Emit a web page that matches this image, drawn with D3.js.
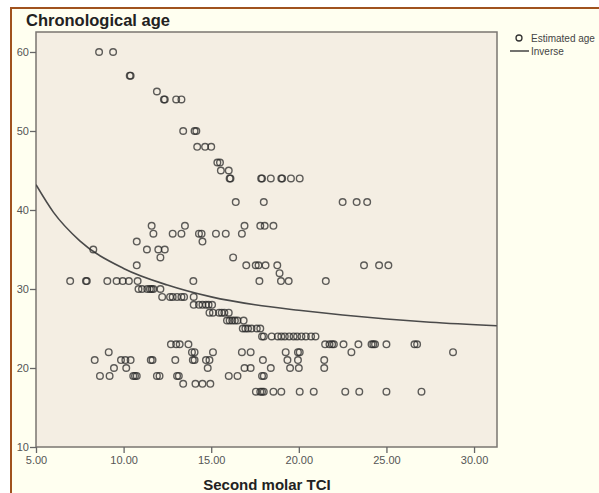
<!DOCTYPE html>
<meta charset="utf-8">
<style>
body { margin: 0; background: #fff; }
svg text { font-family: "Liberation Sans", Arial, sans-serif; }
.tick text { fill: #555; font-size: 11px; }
.tick line { stroke: #666; }
.domain { display: none; }
</style>
<body>
<div id="chart"></div>
<script src="https://d3js.org/d3.v7.min.js"></script>
<script>

var ageLevels = [60, 57, 55, 54, 50, 48, 46, 45, 44, 41, 38, 37, 36, 35, 34, 33, 32, 31, 30, 29, 28, 27, 26, 25, 24, 23, 22, 21, 20, 19, 18, 17];
var tciByAge = [
  [8.6, 9.4],
  [10.35, 10.4],
  [11.9],
  [12.3, 12.35, 13.0, 13.3],
  [13.4, 14.05, 14.15],
  [14.2, 14.65, 15.0],
  [15.35, 15.5],
  [15.55, 16.0],
  [16.05, 16.1, 17.85, 17.9, 18.4, 19.0, 19.05, 19.55, 20.05],
  [16.4, 18.0, 22.5, 23.3, 23.9],
  [11.6, 13.5, 16.9, 17.8, 18.05, 18.55],
  [11.7, 12.8, 13.3, 14.3, 14.45, 15.27, 15.83, 16.75],
  [10.75, 14.5],
  [8.27, 11.33, 11.98, 12.35],
  [12.1, 16.25],
  [10.75, 17.0, 17.54, 17.7, 18.1, 18.77, 23.72, 24.58, 25.11],
  [18.9],
  [6.95, 7.85, 7.9, 9.07, 9.6, 9.95, 10.3, 10.8, 13.98, 17.75, 18.98, 19.42, 21.54],
  [10.85, 11.05, 11.35, 11.5, 11.6, 11.7, 12.1],
  [12.2, 12.65, 12.8, 13.05, 13.3, 13.45, 14.0],
  [14.0, 14.3, 14.5, 14.7, 14.85, 15.05],
  [14.9, 15.1, 15.45, 15.6, 15.75, 16.0],
  [15.9, 16.05, 16.2, 16.35, 16.5, 16.85],
  [16.8, 16.95, 17.1, 17.3, 17.6, 17.8],
  [17.9, 18.0, 18.45, 18.8, 19.0, 19.2, 19.45, 19.7, 19.9, 20.15, 20.4, 20.7, 20.95],
  [12.7, 13.0, 13.2, 13.7, 21.5, 21.75, 21.9, 22.0, 22.55, 23.4, 24.15, 24.25, 24.35, 25.0, 26.6, 26.75],
  [9.15, 13.9, 14.05, 15.1, 16.75, 17.25, 19.25, 19.95, 20.05, 23.0, 28.8],
  [8.35, 9.85, 10.1, 10.4, 11.55, 11.65, 12.95, 13.95, 14.05, 14.7, 14.9, 17.95, 19.35, 19.95, 21.45],
  [9.45, 10.15, 14.8, 16.9, 17.25, 18.4, 19.5, 20.0, 21.45],
  [8.65, 9.2, 10.55, 10.65, 10.75, 11.9, 12.05, 13.05, 13.15, 16.0, 16.5, 17.9, 18.0],
  [13.4, 14.1, 14.5, 14.95],
  [17.55, 17.8, 17.9, 18.0, 18.55, 19.0, 20.05, 20.85, 22.65, 23.45, 25.0, 27.0]
];

// inverse fit curve
var curveTci = [5, 6, 7.5, 10, 12.5, 15, 17.5, 20, 22.5, 25, 27.5, 31.3];
var curveAge = [43.2, 39.7, 36.1, 32.6, 30.5, 29.0, 28.0, 27.3, 26.7, 26.2, 25.8, 25.35];

var xTicks = [5, 10, 15, 20, 25, 30];
var yTicks = [10, 20, 30, 40, 50, 60];
var legendLabels = ["Estimated age", "Inverse"];

var points = [];
ageLevels.forEach(function(a, i) {
    tciByAge[i].forEach(function(t) { points.push({tci: t, age: a}); });
});
var curve = curveTci.map(function(t, i) { return {tci: t, age: curveAge[i]}; });

var W = 599, H = 493;
var plot = {left: 36, top: 32, right: 497, bottom: 447};

var svg = d3.select("#chart").append("svg")
    .attr("width", W)
    .attr("height", H);

// page background + brown frame
svg.append("rect").attr("x", 11).attr("y", 7).attr("width", W - 11).attr("height", H - 7)
    .attr("fill", "#fffff0");
svg.append("line").attr("x1", 11).attr("x2", W).attr("y1", 8).attr("y2", 8)
    .attr("stroke", "#a0521e").attr("stroke-width", 2);
svg.append("line").attr("x1", 11).attr("x2", 11).attr("y1", 7).attr("y2", H)
    .attr("stroke", "#a0521e").attr("stroke-width", 2);

var x = d3.scaleLinear()
    .domain([5, 31.31])
    .range([plot.left, plot.right]);

var y = d3.scaleLinear()
    .domain([10, 62.53])
    .range([plot.bottom, plot.top]);

svg.append("rect")
    .attr("x", plot.left).attr("y", plot.top)
    .attr("width", plot.right - plot.left).attr("height", plot.bottom - plot.top)
    .attr("fill", "#f4eee3")
    .attr("stroke", "#7a7670")
    .attr("stroke-width", 1.5);

svg.append("g")
    .attr("transform", "translate(0," + plot.bottom + ")")
    .call(d3.axisBottom(x).tickValues(xTicks).tickSize(6).tickPadding(3).tickFormat(d3.format(".2f")));

svg.append("g")
    .attr("transform", "translate(" + plot.left + ",0)")
    .call(d3.axisLeft(y).tickValues(yTicks).tickSize(6).tickPadding(1).tickFormat(d3.format("d")));

svg.selectAll(".tick line").attr("stroke-width", 1.3);

svg.append("clipPath").attr("id", "plotclip")
  .append("rect")
    .attr("x", plot.left).attr("y", plot.top)
    .attr("width", plot.right - plot.left).attr("height", plot.bottom - plot.top);

var line = d3.line()
    .x(function(d) { return x(d.tci); })
    .y(function(d) { return y(d.age); })
    .curve(d3.curveMonotoneX);

svg.append("path")
    .datum(curve)
    .attr("clip-path", "url(#plotclip)")
    .attr("d", line)
    .attr("fill", "none")
    .attr("stroke", "#4a4a4a")
    .attr("stroke-width", 1.6);

svg.selectAll(".pt")
    .data(points)
    .enter().append("circle")
    .attr("class", "pt")
    .attr("cx", function(d) { return x(d.tci); })
    .attr("cy", function(d) { return y(d.age); })
    .attr("r", 3.3)
    .attr("fill", "none")
    .attr("stroke", "#2a2a2a")
    .attr("stroke-opacity", 0.75)
    .attr("stroke-width", 1.4);

// titles
svg.append("text")
    .attr("x", 26).attr("y", 26)
    .attr("font-size", 16.5).attr("font-weight", "bold").attr("fill", "#222")
    .text("Chronological age");

svg.append("text")
    .attr("x", 267).attr("y", 490)
    .attr("text-anchor", "middle")
    .attr("font-size", 15).attr("font-weight", "bold").attr("fill", "#222")
    .text("Second molar TCI");

// legend
var lg = svg.append("g");
lg.append("circle").attr("cx", 519).attr("cy", 38).attr("r", 3)
    .attr("fill", "none").attr("stroke", "#333").attr("stroke-width", 1.3);
lg.append("line").attr("x1", 510).attr("x2", 529).attr("y1", 51).attr("y2", 51)
    .attr("stroke", "#444").attr("stroke-width", 1.5);
lg.selectAll("text")
    .data(legendLabels)
    .enter().append("text")
    .attr("x", 531)
    .attr("y", function(d, i) { return 42 + i * 12.5; })
    .attr("font-size", 10).attr("fill", "#444")
    .text(function(d) { return d; });

</script>
